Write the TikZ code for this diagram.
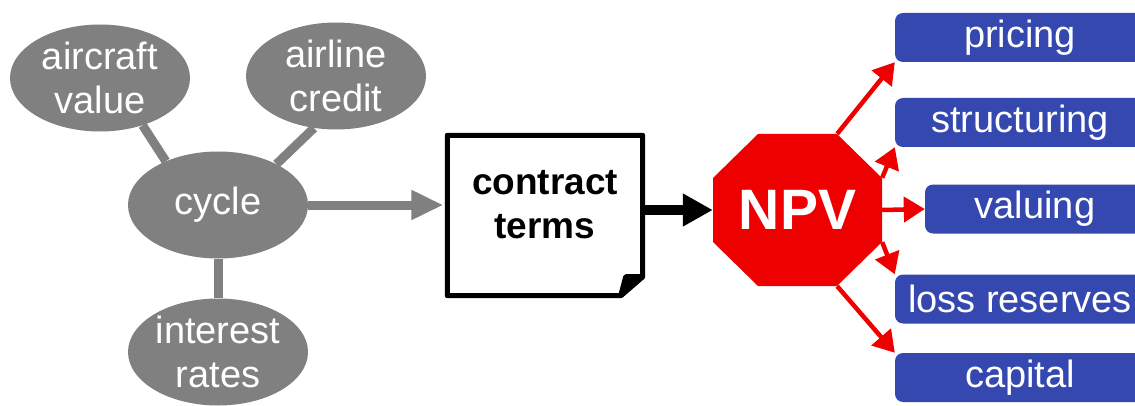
\documentclass[tikz,border=0pt]{standalone}
\usepackage{fontspec}
\setmainfont{Liberation Sans}
\usetikzlibrary{arrows.meta,shapes.geometric}
\definecolor{bubblegray}{RGB}{128,128,128}
\definecolor{npvred}{RGB}{238,0,0}
\definecolor{useblue}{RGB}{52,72,176}

\begin{document}
\begin{tikzpicture}[x=1pt, y=1pt,
      bubble/.style={ellipse, fill=bubblegray, text=white, align=center, inner sep=0pt,
        minimum width=180pt, minimum height=107pt, font=\fontsize{38}{44}\selectfont},
      usebox/.style={rounded corners=8pt, fill=useblue, text=white, inner sep=0pt,
        minimum width=250pt, minimum height=49pt, font=\fontsize{38}{44}\selectfont},
      termsbox/.style={minimum width=195pt, minimum height=160pt, inner sep=0pt},
      termstext/.style={align=center, font=\bfseries\fontsize{37}{44}\selectfont},
      stopsign/.style={minimum width=169pt, minimum height=152pt, inner sep=0pt, text=white,
        font=\bfseries\fontsize{57}{60}\selectfont,
        path picture={\fill[npvred] ([xshift=45pt]path picture bounding box.north west)
          -- ([xshift=-45pt]path picture bounding box.north east)
          -- ([yshift=-44pt]path picture bounding box.north east)
          -- ([yshift=44pt]path picture bounding box.south east)
          -- ([xshift=-45pt]path picture bounding box.south east)
          -- ([xshift=45pt]path picture bounding box.south west)
          -- ([yshift=44pt]path picture bounding box.south west)
          -- ([yshift=-44pt]path picture bounding box.north west) -- cycle;}},
      link/.style={bubblegray, line width=9pt},
      hit/.style={npvred, line width=4.5pt, -{Triangle[length=21pt,width=25pt]}}
    ]
      \useasboundingbox (0,0) rectangle (1135,405);

      % Drivers
      \node[bubble] (aircraft) at (100,327) {aircraft\\value};
      \node[bubble] (airline) at (336,329) {airline\\credit};
      \node[bubble] (cycle) at (218,200) {cycle};
      \node[bubble] (interest) at (218,53) {interest\\rates};

      \draw[link] (aircraft.-48) -- (cycle.140);
      \draw[link] (airline.-113) -- (cycle.35);
      \draw[link] (cycle.south) -- (interest.north);

      % Contract
      \node[termsbox] (terms) at (545,189.5) {};
      \draw[line width=5pt, line join=round] (terms.north west) -- (terms.north east)
        -- ([yshift=19pt]terms.south east) -- ([xshift=-22pt]terms.south east)
        -- (terms.south west) -- cycle;
      \filldraw[line width=5pt, line join=round] ([yshift=19pt]terms.south east)
        -- ([xshift=-17pt,yshift=19pt]terms.south east) -- ([xshift=-22pt]terms.south east) -- cycle;
      \node[termstext] (termslabel) at ([yshift=11pt]terms.center) {contract\\terms};

      % NPV
      \node[stopsign] (npv) at (797.5,195) {NPV};

      % Uses
      \node[usebox] (pricing) at (1020,367.5) {pricing};
      \node[usebox] (structuring) at (1020,282.5) {structuring};
      \node[usebox, minimum width=220pt] (valuing) at (1035,196) {valuing};
      \node[usebox] (loss) at (1020,106) {loss reserves};
      \node[usebox] (capital) at (1020,27.5) {capital};

      % Arrows
      \draw[link, -{Triangle[length=32pt,width=28pt]}, shorten >=4pt] (cycle.east) -- (cycle.east -| terms.west);
      \draw[line width=10pt, -{Triangle[length=30pt,width=31pt]}] (terms.east |- npv.west) -- (npv.west);
      \draw[hit] ([xshift=-45pt]npv.north east) -- (pricing.south west);
      \draw[hit] ([yshift=-44pt]npv.north east) -- (structuring.south west);
      \draw[hit] (npv.east) -- (valuing.west);
      \draw[hit] ([yshift=44pt]npv.south east) -- (loss.north west);
      \draw[hit] ([xshift=-45pt]npv.south east) -- (capital.north west);
    \end{tikzpicture}
\end{document}
